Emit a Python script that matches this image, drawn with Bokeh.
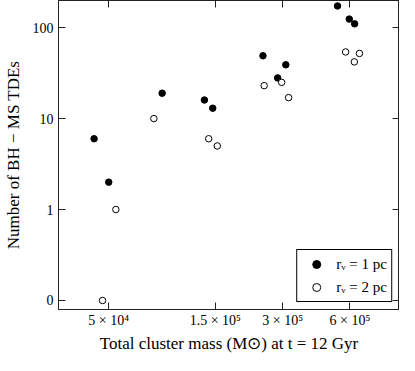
import math
from bokeh.plotting import figure
from bokeh.models import (FixedTicker, LinearAxis, LogAxis, Legend, LegendItem,
                          ColumnDataSource, Range1d)
from bokeh.embed import file_html
from bokeh.resources import INLINE

# --- data ---
mass_1pc = [4.30e4, 5.0e4, 8.67e4, 1.34e5, 1.46e5, 2.45e5, 2.85e5, 3.10e5, 5.28e5, 5.96e5, 6.30e5]
tdes_1pc = [6, 2, 19, 16, 13, 49, 28, 39, 173, 124, 110]
mass_2pc = [4.69e4, 5.38e4, 7.96e4, 1.40e5, 1.53e5, 2.48e5, 2.97e5, 3.19e5, 5.74e5, 6.62e5, 6.28e5]
tdes_2pc = [0, 1, 10, 6, 5, 23, 25, 17, 54, 52, 42]
x_ticks = [5e4, 1.5e5, 3e5, 6e5]
x_tick_labels = ["5 × 10⁴", "1.5 × 10⁵", "3 × 10⁵", "6 × 10⁵"]
y_ticks = [0, 1, 10, 100]
y_tick_labels = ["0", "1", "10", "100"]
label_1pc = "rᵥ = 1 pc"
label_2pc = "rᵥ = 2 pc"


def sym(v):
    # symmetric-log style mapping: linear below 1, logarithmic above
    return v if v <= 1 else 1 + math.log10(v)


FONT = "Liberation Serif"
EDGE = "#222222"

p = figure(width=399, height=355, x_axis_type="log",
           x_range=Range1d(2.98e4, 1.0e6), y_range=Range1d(-0.099, 3.298),
           output_backend="svg", toolbar_location=None,
           min_border_left=46, min_border_right=0, min_border_top=0,
           min_border_bottom=30)
p.grid.visible = False
p.outline_line_color = EDGE
p.outline_line_width = 1

src1 = ColumnDataSource(dict(x=mass_1pc, y=[sym(v) for v in tdes_1pc]))
src2 = ColumnDataSource(dict(x=mass_2pc, y=[sym(v) for v in tdes_2pc]))
r1 = p.scatter("x", "y", source=src1, size=6.5, fill_color="black", line_color="black")
r2 = p.scatter("x", "y", source=src2, size=6.5, fill_color="white", line_color="black",
               line_width=1)

xover = {t: l for t, l in zip(x_ticks, x_tick_labels)}
yover = {sym(t): l for t, l in zip(y_ticks, y_tick_labels)}


def style(ax, labels=True):
    ax.major_tick_in = 7
    ax.major_tick_out = 0
    ax.minor_tick_line_color = None
    ax.axis_line_color = EDGE
    ax.major_tick_line_color = EDGE
    ax.major_label_text_font = FONT
    ax.major_label_text_font_size = "14px"
    ax.major_label_text_color = "black"
    ax.axis_label_text_font = FONT
    ax.axis_label_text_font_size = "17px"
    ax.axis_label_text_font_style = "normal"
    ax.axis_label_text_color = "black"
    if not labels:
        ax.major_label_text_color = None
        ax.major_label_text_font_size = "0px"
        ax.major_label_standoff = 0


xa = p.xaxis[0]
xa.ticker = FixedTicker(ticks=x_ticks)
xa.major_label_overrides = xover
xa.axis_label = "Total cluster mass (M⊙) at t = 12 Gyr"
style(xa)
xa.major_label_standoff = 3
xa.axis_label_standoff = 3

ya = p.yaxis[0]
ya.ticker = FixedTicker(ticks=[sym(v) for v in y_ticks])
ya.major_label_overrides = yover
ya.axis_label = "Number of BH − MS TDEs"
style(ya)
ya.major_label_standoff = 5
ya.axis_label_standoff = 7

top = LogAxis(ticker=FixedTicker(ticks=x_ticks))
style(top, labels=False)
p.add_layout(top, "above")
right = LinearAxis(ticker=FixedTicker(ticks=[sym(v) for v in y_ticks]))
style(right, labels=False)
p.add_layout(right, "right")

legend = Legend(items=[LegendItem(label=label_1pc, renderers=[r1]),
                       LegendItem(label=label_2pc, renderers=[r2])],
                location="bottom_right")
legend.margin = 7
legend.padding = 4
legend.spacing = 3
legend.glyph_width = 30
legend.glyph_height = 20
legend.label_height = 20
legend.label_standoff = 5
legend.label_text_font = FONT
legend.label_text_font_size = "15px"
legend.label_text_color = "black"
legend.border_line_color = "black"
legend.border_line_width = 1
legend.border_line_alpha = 1
legend.background_fill_alpha = 1
p.add_layout(legend, "center")

open("out.html", "w").write(file_html(p, INLINE))
